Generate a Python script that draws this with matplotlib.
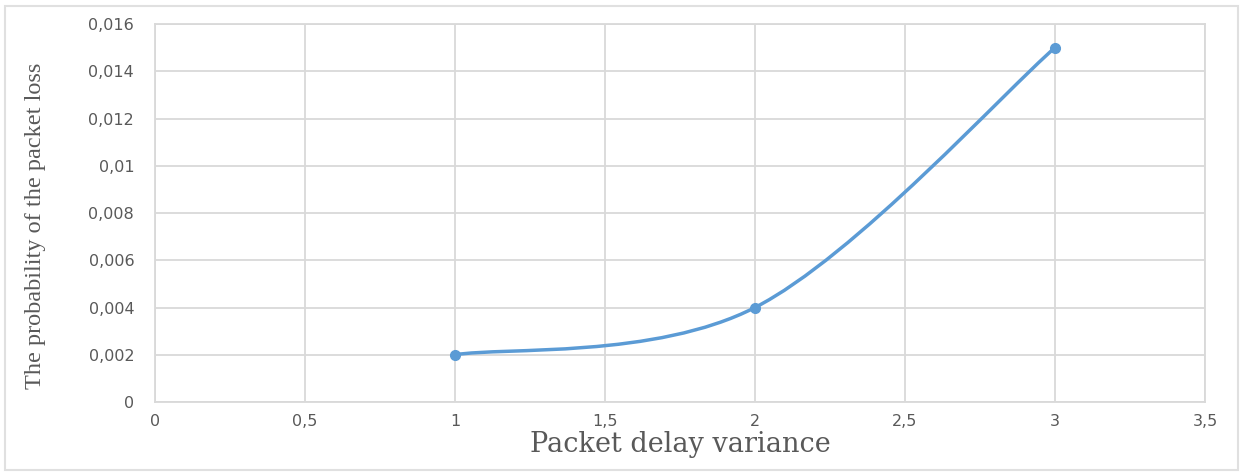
import numpy as np
import matplotlib.pyplot as plt
from matplotlib.path import Path
from matplotlib.patches import PathPatch, Rectangle
from matplotlib.ticker import FuncFormatter

# data
delay = [1, 2, 3]
loss = [0.002, 0.004, 0.015]

x_ticks = [0, 0.5, 1, 1.5, 2, 2.5, 3, 3.5]
y_ticks = [0, 0.002, 0.004, 0.006, 0.008, 0.01, 0.012, 0.014, 0.016]

blue = '#5B9BD5'
grid_c = '#D9D9D9'
txt_c = '#595959'

fig = plt.figure(figsize=(12.41, 4.73), dpi=100)
ax = fig.add_axes([155/1241, 1-402/473, 1050/1241, 378/473])

# smoothed line like excel: bezier segments from catmull-rom style control points
pts = np.column_stack([delay, loss])
verts = [pts[0]]
codes = [Path.MOVETO]
for i in range(len(pts)-1):
    p_prev = pts[max(i-1, 0)]
    p0 = pts[i]
    p1 = pts[i+1]
    p_next = pts[min(i+2, len(pts)-1)]
    c1 = p0 + (p1 - p_prev)/6
    c2 = p1 - (p_next - p0)/6
    verts += [c1, c2, p1]
    codes += [Path.CURVE4]*3
ax.add_patch(PathPatch(Path(verts, codes), fill=False, edgecolor=blue, lw=2.5, zorder=3))
ax.plot(delay, loss, 'o', color=blue, ms=7, zorder=4)

ax.set_xlim(0, 3.5)
ax.set_ylim(0, 0.016)
ax.set_xticks(x_ticks)
ax.set_yticks(y_ticks)

def comma(v, pos):
    s = ('%.3f' % v).rstrip('0').rstrip('.')
    return s.replace('.', ',')

ax.xaxis.set_major_formatter(FuncFormatter(comma))
ax.yaxis.set_major_formatter(FuncFormatter(comma))
ax.tick_params(length=0, labelsize=11.5, colors=txt_c)
ax.tick_params(axis='x', pad=9)
ax.tick_params(axis='y', pad=15)
ax.grid(True, color=grid_c, lw=1.3)
ax.set_axisbelow(True)
for s in ax.spines.values():
    s.set_color(grid_c)
    s.set_linewidth(1.3)

fig.text(680/1241, 1-444/473, 'Packet delay variance', ha='center', va='center',
         family='DejaVu Serif', fontsize=19.5, color=txt_c)
fig.text(36/1241, 1-226/473, 'The probability of the packet loss', ha='center', va='center',
         rotation=90, family='Liberation Serif', fontsize=17.5, color=txt_c)

fig.patches.append(Rectangle((5/1241, 3/473), 1233/1241, 464/473, transform=fig.transFigure,
                             fill=False, edgecolor='#E0E0E0', lw=1.5))

fig.savefig('out.png', dpi=100)
